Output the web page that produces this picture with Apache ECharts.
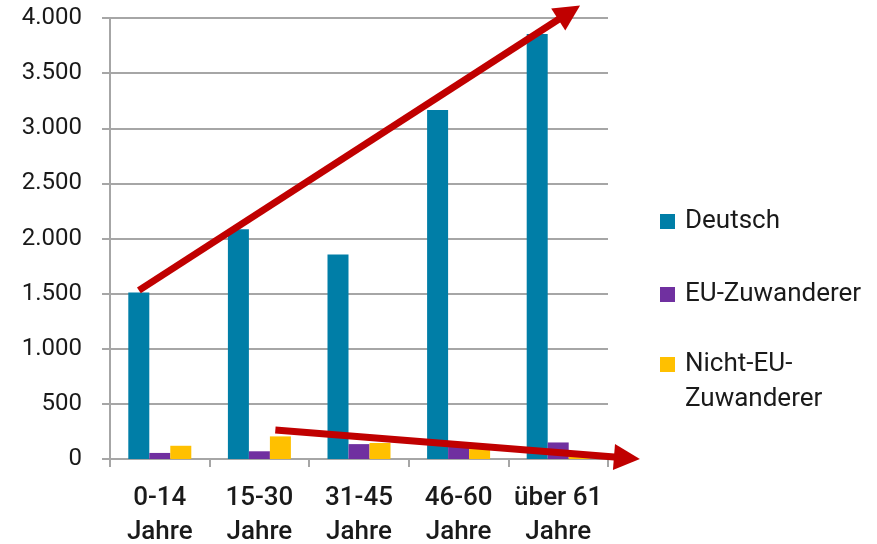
<!DOCTYPE html>
<html>
<head>
<meta charset="utf-8">
<script src="https://cdn.jsdelivr.net/npm/echarts@6/dist/echarts.min.js"></script>
<style>
  html, body { margin: 0; padding: 0; background: #fff; }
  #chart { width: 877px; height: 544px; }
</style>
</head>
<body>
<div id="chart"></div>
<script>
// Altersgruppen
const categories = ['0-14\nJahre', '15-30\nJahre', '31-45\nJahre', '46-60\nJahre', 'über 61\nJahre'];
const deutsch = [1510, 2085, 1855, 3165, 3855];
const euZuwanderer = [55, 70, 135, 150, 150];
const nichtEuZuwanderer = [120, 205, 145, 90, 20];
const yTicks = [0, 500, 1000, 1500, 2000, 2500, 3000, 3500, 4000];

// Trendpfeile in Datenkoordinaten (x: Kategorie-Position, y: Wert), Ende = Mitte der Pfeilspitze
const trendUp = [[-0.21, 1530], [4.11, 4050]];
const trendDown = [[1.16, 263], [4.69, 9]];

const red = '#C00000';
const grey = '#A6A6A6';
const font = 'Roboto';

const myChart = echarts.init(document.getElementById('chart'));

function fmt(v) {
  return String(v).replace(/\B(?=(\d{3})+(?!\d))/g, '.');
}

const legendBase = {
  orient: 'vertical',
  left: 660,
  padding: 0,
  itemWidth: 15,
  itemHeight: 15,
  icon: 'rect',
  selectedMode: false,
  textStyle: {
    fontFamily: font,
    fontSize: 26,
    color: '#1a1a1a',
    lineHeight: 35,
    padding: [0, 0, 0, 5],
  },
};

const option = {
  animation: false,
  legend: [
    Object.assign({}, legendBase, { top: 204, data: ['Deutsch'] }),
    Object.assign({}, legendBase, { top: 277, data: ['EU-Zuwanderer'] }),
    Object.assign({}, legendBase, {
      top: 312,
      data: ['Nicht-EU-Zuwanderer'],
      formatter: () => '\nNicht-EU-\nZuwanderer',
    }),
  ],
  grid: {
    left: 110,
    right: 269,
    top: 18,
    bottom: 85,
    containLabel: false,
    outerBoundsMode: 'none',
  },
  xAxis: [{
    type: 'category',
    data: categories,
    axisLine: { lineStyle: { color: grey, width: 2 } },
    axisTick: { show: true, length: 8, lineStyle: { color: grey, width: 2 } },
    axisLabel: {
      margin: 22,
      fontFamily: font,
      fontSize: 26,
      fontWeight: 500,
      color: '#1a1a1a',
      lineHeight: 34,
      interval: 0,
    },
  }, {
    type: 'value',
    min: -0.5,
    max: 4.5,
    show: false,
  }],
  yAxis: {
    type: 'value',
    min: yTicks[0],
    max: yTicks[yTicks.length - 1],
    interval: yTicks[1] - yTicks[0],
    axisLine: { show: true, onZero: false, lineStyle: { color: grey, width: 2 } },
    axisTick: { show: true, length: 8, lineStyle: { color: grey, width: 2 } },
    splitLine: { lineStyle: { color: grey, width: 2 } },
    axisLabel: {
      margin: 28,
      fontFamily: font,
      fontSize: 24,
      color: '#1a1a1a',
      formatter: fmt,
    },
  },
  series: [
    {
      name: 'Deutsch',
      type: 'bar',
      barWidth: 21,
      barGap: '0%',
      itemStyle: { color: '#007EA7' },
      data: deutsch,
    },
    {
      name: 'EU-Zuwanderer',
      type: 'bar',
      barWidth: 21,
      barGap: '0%',
      itemStyle: { color: '#7030A0' },
      data: euZuwanderer,
    },
    {
      name: 'Nicht-EU-Zuwanderer',
      type: 'bar',
      barWidth: 21,
      barGap: '0%',
      itemStyle: { color: '#FFC000' },
      data: nichtEuZuwanderer,
    },
    {
      type: 'lines',
      coordinateSystem: 'cartesian2d',
      xAxisIndex: 1,
      yAxisIndex: 0,
      clip: false,
      silent: true,
      z: 10,
      symbol: ['none', 'triangle'],
      symbolSize: 26,
      lineStyle: { color: red, width: 7, opacity: 1, curveness: 0 },
      data: [
        { coords: trendUp },
        { coords: trendDown },
      ],
    },
  ],
};

myChart.setOption(option);
</script>
</body>
</html>
